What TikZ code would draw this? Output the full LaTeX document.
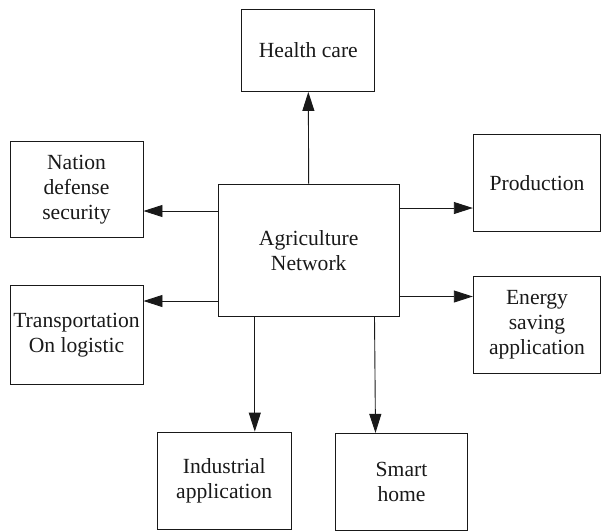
\documentclass[tikz,border=0pt]{standalone}
\usepackage{fontspec}
\setmainfont{Liberation Serif}
\usetikzlibrary{arrows.meta}
\begin{document}
\begin{tikzpicture}[x=1pt,y=-1pt,
  box/.style={draw=black!90,line width=0.9pt,rectangle,inner sep=0pt,align=center,
    font=\fontsize{21.6}{25}\selectfont,text=black!90},
  arr/.style={draw=black!90,line width=0.9pt,-{Triangle[length=19pt,width=12pt]}}]
\useasboundingbox (0,0) rectangle (602,531);
\node[box,minimum width=133pt,minimum height=82pt] (health) at (308.3,50.5) {Health care};
\node[box,minimum width=133pt,minimum height=96pt] (nation) at (76.5,189.7) {Nation\\defense\\security};
\node[box,minimum width=127.5pt,minimum height=97.5pt] (prod) at (537,183) {Production};
\node[box,minimum width=127.5pt,minimum height=97.3pt] (energy) at (537,324.7) {Energy\\saving\\application};
\node[box,minimum width=133pt,minimum height=98.6pt] (trans) at (76.5,335) {Transportation\\On logistic};
\node[box,minimum width=180.7pt,minimum height=132.7pt] (agri) at (308.7,250.3) {Agriculture\\Network};
\node[box,minimum width=133.6pt,minimum height=97.3pt] (indus) at (224.2,480.7) {Industrial\\application};
\node[box,minimum width=132.7pt,minimum height=96.7pt] (smart) at (401.5,481.7) {Smart\\home};
\draw[arr] (agri.north |- 0,184) -- (health.south);
\draw[arr] (agri.west |- 0,211) -- (nation.east |- 0,211);
\draw[arr] (agri.west |- 0,301) -- (trans.east |- 0,301);
\draw[arr] (agri.east |- 0,208) -- (prod.west |- 0,208);
\draw[arr] (agri.east |- 0,296.5) -- (energy.west |- 0,296.5);
\draw[arr] (agri.south -| 254.8,0) -- (indus.north -| 254.8,0);
\draw[arr] (agri.south -| 374.5,0) -- (smart.north -| 375.5,0);
\end{tikzpicture}
\end{document}
